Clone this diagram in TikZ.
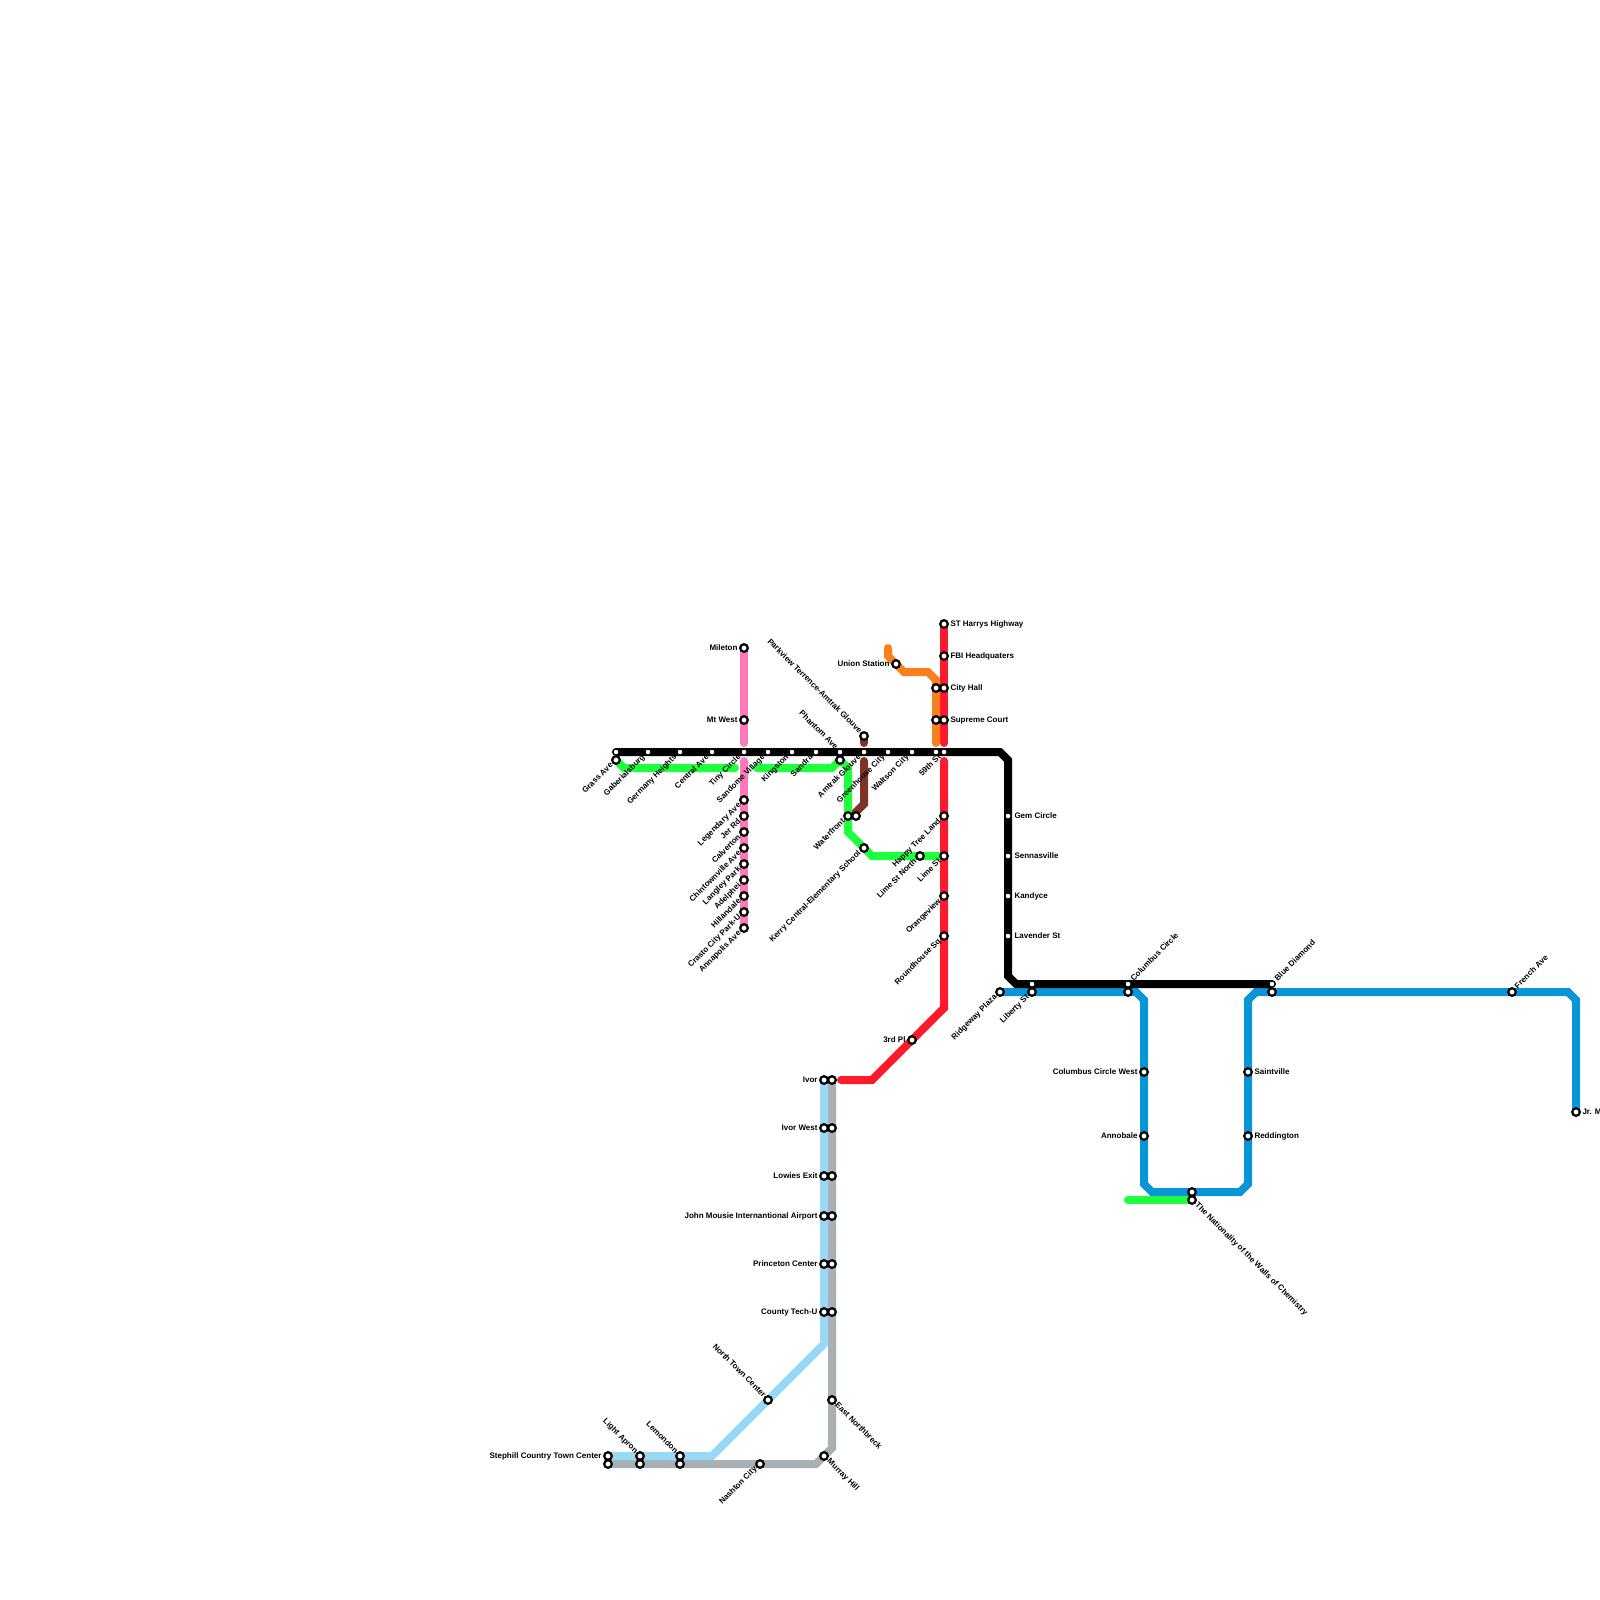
\documentclass[tikz,border=0pt]{standalone}
\usepackage{fontspec}
\setmainfont{Liberation Sans}
\pgfdeclarelayer{lines}
\pgfsetlayers{lines,main}
\definecolor{cBlack}{HTML}{000000}
\definecolor{cRed}{HTML}{FF1A2B}
\definecolor{cPink}{HTML}{FF78B8}
\definecolor{cGreen}{HTML}{1EFF3E}
\definecolor{cOrange}{HTML}{F9801D}
\definecolor{cBrown}{HTML}{7E3527}
\definecolor{cBlue}{HTML}{0A95D7}
\definecolor{cSky}{HTML}{99D9F5}
\definecolor{cGrey}{HTML}{A9B0B3}
\tikzset{
  bigs/.style={circle,draw=black,fill=white,line width=2.2pt,minimum size=7.6pt,inner sep=0pt},
  smalls/.style={circle,draw=black,fill=white,line width=1pt,minimum size=6pt,inner sep=0pt},
  lbl/.style={font=\fontsize{8}{9}\selectfont\bfseries,inner sep=0pt,text height=5.8pt,text depth=1.6pt,text=black},
  lblL/.style={lbl,anchor=east},
  lblR/.style={lbl,anchor=west},
  lblDL/.style={lbl,anchor=east,rotate=45},
  lblUR/.style={lbl,anchor=west,rotate=45},
  lblUL/.style={lbl,anchor=east,rotate=-45},
  lblDR/.style={lbl,anchor=west,rotate=-45},
  metro/.style={line width=8pt,line cap=round,line join=miter},
}
\def\offL{-6.3,0.4}
\def\offR{6.3,0.4}
\def\offDL{-4.2,4.2}
\def\offUR{4.2,-4.2}
\def\offUL{-3.6,-3.6}
\def\offDR{4.2,4.2}
% name, x, y, class, direction, text
\newcommand{\stn}[6]{%
  \node[#4] (#1) at (#2,#3) {};
  \node[lbl#5] (#1t) at ([shift={(\csname off#5\endcsname)}]#1.center) {#6};
}
\newcommand{\stp}[4]{\node[#4] (#1) at (#2,#3) {};}
\begin{document}
\begin{tikzpicture}[x=1pt,y=-1pt]
\useasboundingbox (0,0) rectangle (1600,1600);
% black line stations
\stp{bka}{616}{752}{smalls}
\stn{gab}{648}{752}{smalls}{DL}{Gaberialsburg}
\stn{ger}{680}{752}{smalls}{DL}{Germany Heights}
\stn{cen}{712}{752}{smalls}{DL}{Central Ave}
\stn{tin}{744}{752}{smalls}{DL}{Tiny Circle}
\stn{sam}{768}{752}{smalls}{DL}{Sandome Village}
\stn{kin}{792}{752}{smalls}{DL}{Kingston}
\stn{san}{816}{752}{smalls}{DL}{Sandra}
\stn{pha}{840}{752}{smalls}{UL}{Phantom Ave}
\stn{amt}{864}{752}{smalls}{DL}{Amtrak Glouve}
\stn{gre}{888}{752}{smalls}{DL}{Greenhouse City}
\stn{wal}{912}{752}{smalls}{DL}{Waltson City}
\stp{bkb}{936}{752}{smalls}
\stn{nin}{944}{752}{smalls}{DL}{59th St}
\stn{gem}{1008}{816}{smalls}{R}{Gem Circle}
\stn{sen}{1008}{856}{smalls}{R}{Sennasville}
\stn{kan}{1008}{896}{smalls}{R}{Kandyce}
\stn{lav}{1008}{936}{smalls}{R}{Lavender St}
\stp{bkc}{1032}{984}{smalls}
\stn{col}{1128}{984}{smalls}{UR}{Columbus Circle}
\stn{dia}{1272}{984}{smalls}{UR}{Blue Diamond}
% green stations
\stn{gra}{616}{760}{bigs}{DL}{Grass Ave}
\stp{gra2}{840}{760}{bigs}
\stn{wat}{848}{816}{bigs}{DL}{Waterfront}
\stn{ker}{864}{848}{bigs}{DL}{Kerry Central-Elementary School}
\stn{lin}{920}{856}{bigs}{DL}{Lime St North}
\stn{nat}{1192}{1200}{bigs}{DR}{The Nationality of the Walls of Chemistry}
% brown
\stn{par}{864}{736}{bigs}{UL}{Parkview Terrence-Amtrak Glouve}
\stp{brn}{856}{816}{bigs}
% pink
\stn{mil}{744}{648}{bigs}{L}{Mileton}
\stn{mtw}{744}{720}{bigs}{L}{Mt West}
\stn{leg}{744}{800}{bigs}{DL}{Legendary Ave}
\stn{jer}{744}{816}{bigs}{DL}{Jer Rd}
\stn{cal}{744}{832}{bigs}{DL}{Calverton}
\stn{chi}{744}{848}{bigs}{DL}{Chintownville Ave}
\stn{lan}{744}{864}{bigs}{DL}{Langley Park}
\stn{ade}{744}{880}{bigs}{DL}{Adelphei}
\stn{hil}{744}{896}{bigs}{DL}{Hillandale}
\stn{cra}{744}{912}{bigs}{DL}{Crasto City Park-U}
\stn{anp}{744}{928}{bigs}{DL}{Annapolis Ave}
% orange
\stn{uni}{896}{664}{bigs}{L}{Union Station}
\stp{ora}{936}{688}{bigs}
\stp{orb}{936}{720}{bigs}
% red
\stn{stu}{944}{624}{bigs}{R}{ST Harrys Highway}
\stn{fbi}{944}{656}{bigs}{R}{FBI Headquaters}
\stn{cit}{944}{688}{bigs}{R}{City Hall}
\stn{sup}{944}{720}{bigs}{R}{Supreme Court}
\stn{hap}{944}{816}{bigs}{DL}{Happy Tree Land}
\stn{lim}{944}{856}{bigs}{DL}{Lime St}
\stn{ori}{944}{896}{bigs}{DL}{Orangeview}
\stn{rou}{944}{936}{bigs}{DL}{Roundhouse Sq}
\stn{thr}{912}{1040}{bigs}{L}{3rd Pl}
% blue
\stn{rid}{1000}{992}{bigs}{DL}{Ridgeway Plaza}
\stn{lib}{1032}{992}{bigs}{DL}{Liberty St}
\stp{blc}{1128}{992}{bigs}
\stn{cow}{1144}{1072}{bigs}{L}{Columbus Circle West}
\stn{ann}{1144}{1136}{bigs}{L}{Annobale}
\stp{bld}{1192}{1192}{bigs}
\stn{sai}{1248}{1072}{bigs}{R}{Saintville}
\stn{red}{1248}{1136}{bigs}{R}{Reddington}
\stp{ble}{1272}{992}{bigs}
\stn{fre}{1512}{992}{bigs}{UR}{French Ave}
\stn{jrm}{1576}{1112}{bigs}{R}{Jr. M}
% sky
\stn{ste}{608}{1456}{bigs}{L}{Stephill Country Town Center}
\stn{lig}{640}{1456}{bigs}{UL}{Light Apron}
\stn{lem}{680}{1456}{bigs}{UL}{Lemondon}
\stn{nor}{768}{1400}{bigs}{UL}{North Town Center}
\stn{cou}{824}{1312}{bigs}{L}{County Tech-U}
\stn{pri}{824}{1264}{bigs}{L}{Princeton Center}
\stn{joh}{824}{1216}{bigs}{L}{John Mousie Internantional Airport}
\stn{low}{824}{1176}{bigs}{L}{Lowies Exit}
\stn{ivw}{824}{1128}{bigs}{L}{Ivor West}
\stn{ivo}{824}{1080}{bigs}{L}{Ivor}
% grey
\stp{gya}{608}{1464}{bigs}
\stp{gyb}{640}{1464}{bigs}
\stp{gyc}{680}{1464}{bigs}
\stn{nas}{760}{1464}{bigs}{DL}{Nashton City}
\stn{mur}{824}{1456}{bigs}{DR}{Murray Hill}
\stn{eas}{832}{1400}{bigs}{DR}{East Northbreck}
\stp{gy1}{832}{1312}{bigs}
\stp{gy2}{832}{1264}{bigs}
\stp{gy3}{832}{1216}{bigs}
\stp{gy4}{832}{1176}{bigs}
\stp{gy5}{832}{1128}{bigs}
\stp{gy6}{832}{1080}{bigs}
% bends and free ends
\coordinate (bk1) at (1000,752); \coordinate (bk2) at (1008,760);
\coordinate (bk3) at (1008,976); \coordinate (bk4) at (1016,984);
\coordinate (gn1) at (624,768); \coordinate (gn2) at (735,768);
\coordinate (gn3) at (757,768); \coordinate (gn4) at (832,768);
\coordinate (gn5) at (848,768); \coordinate (gn6) at (848,832);
\coordinate (gn7) at (872,856);
\coordinate (gn8) at (1128,1200);
\coordinate (br1) at (864,743); \coordinate (br2) at (864,761);
\coordinate (br3) at (864,804); \coordinate (br4) at (856,812);
\coordinate (pk1) at (744,743); \coordinate (pk2) at (744,761);
\coordinate (or1) at (888,648); \coordinate (or2) at (888,656);
\coordinate (or3) at (904,672); \coordinate (or4) at (928,672);
\coordinate (or5) at (936,680); \coordinate (or6) at (936,743);
\coordinate (rd1) at (944,743); \coordinate (rd2) at (944,761);
\coordinate (rd3) at (944,1008); \coordinate (rd4) at (872,1080);
\coordinate (rd5) at (841,1080);
\coordinate (bl1) at (1136,992); \coordinate (bl2) at (1144,1000);
\coordinate (bl3) at (1144,1184); \coordinate (bl4) at (1152,1192);
\coordinate (bl5) at (1240,1192); \coordinate (bl6) at (1248,1184);
\coordinate (bl7) at (1248,1000); \coordinate (bl8) at (1256,992);
\coordinate (bl9) at (1568,992); \coordinate (bl10) at (1576,1000);
\coordinate (sk1) at (712,1456); \coordinate (sk2) at (824,1344);
\coordinate (gy7) at (816,1464); \coordinate (gy8) at (832,1448);
\begin{pgfonlayer}{lines}
\draw[metro,cGrey] (gya.center) -- (gy7) -- (gy8) -- (gy6.center);
\draw[metro,cSky] (ste.center) -- (sk1) -- (sk2) -- (ivo.center);
\draw[metro,cRed] (stu.center) -- (rd1);
\draw[metro,cRed] (rd2) -- (rd3) -- (rd4) -- (rd5);
\draw[metro,cOrange] (or1) -- (or2) -- (or3) -- (or4) -- (or5) -- (or6);
\draw[metro,cGreen] (gra.center) -- (gn1) -- (gn2);
\draw[metro,cGreen] (gn3) -- (gn4) -- (gra2.center) -- (gn5) -- (gn6) -- (gn7) -- (lim.center);
\draw[metro,cGreen] (gn8) -- (nat.center);
\draw[metro,cBrown] (par.center) -- (br1);
\draw[metro,cBrown] (br2) -- (br3) -- (br4) -- (brn.center);
\draw[metro,cPink] (mil.center) -- (pk1);
\draw[metro,cPink] (pk2) -- (anp.center);
\draw[metro,cBlue] (rid.center) -- (bl1) -- (bl2) -- (bl3) -- (bl4) -- (bl5) -- (bl6) -- (bl7) -- (bl8) -- (bl9) -- (bl10) -- (jrm.center);
\draw[metro,cBlack] (bka.center) -- (bk1) -- (bk2) -- (bk3) -- (bk4) -- (dia.center);
\end{pgfonlayer}
\end{tikzpicture}
\end{document}
